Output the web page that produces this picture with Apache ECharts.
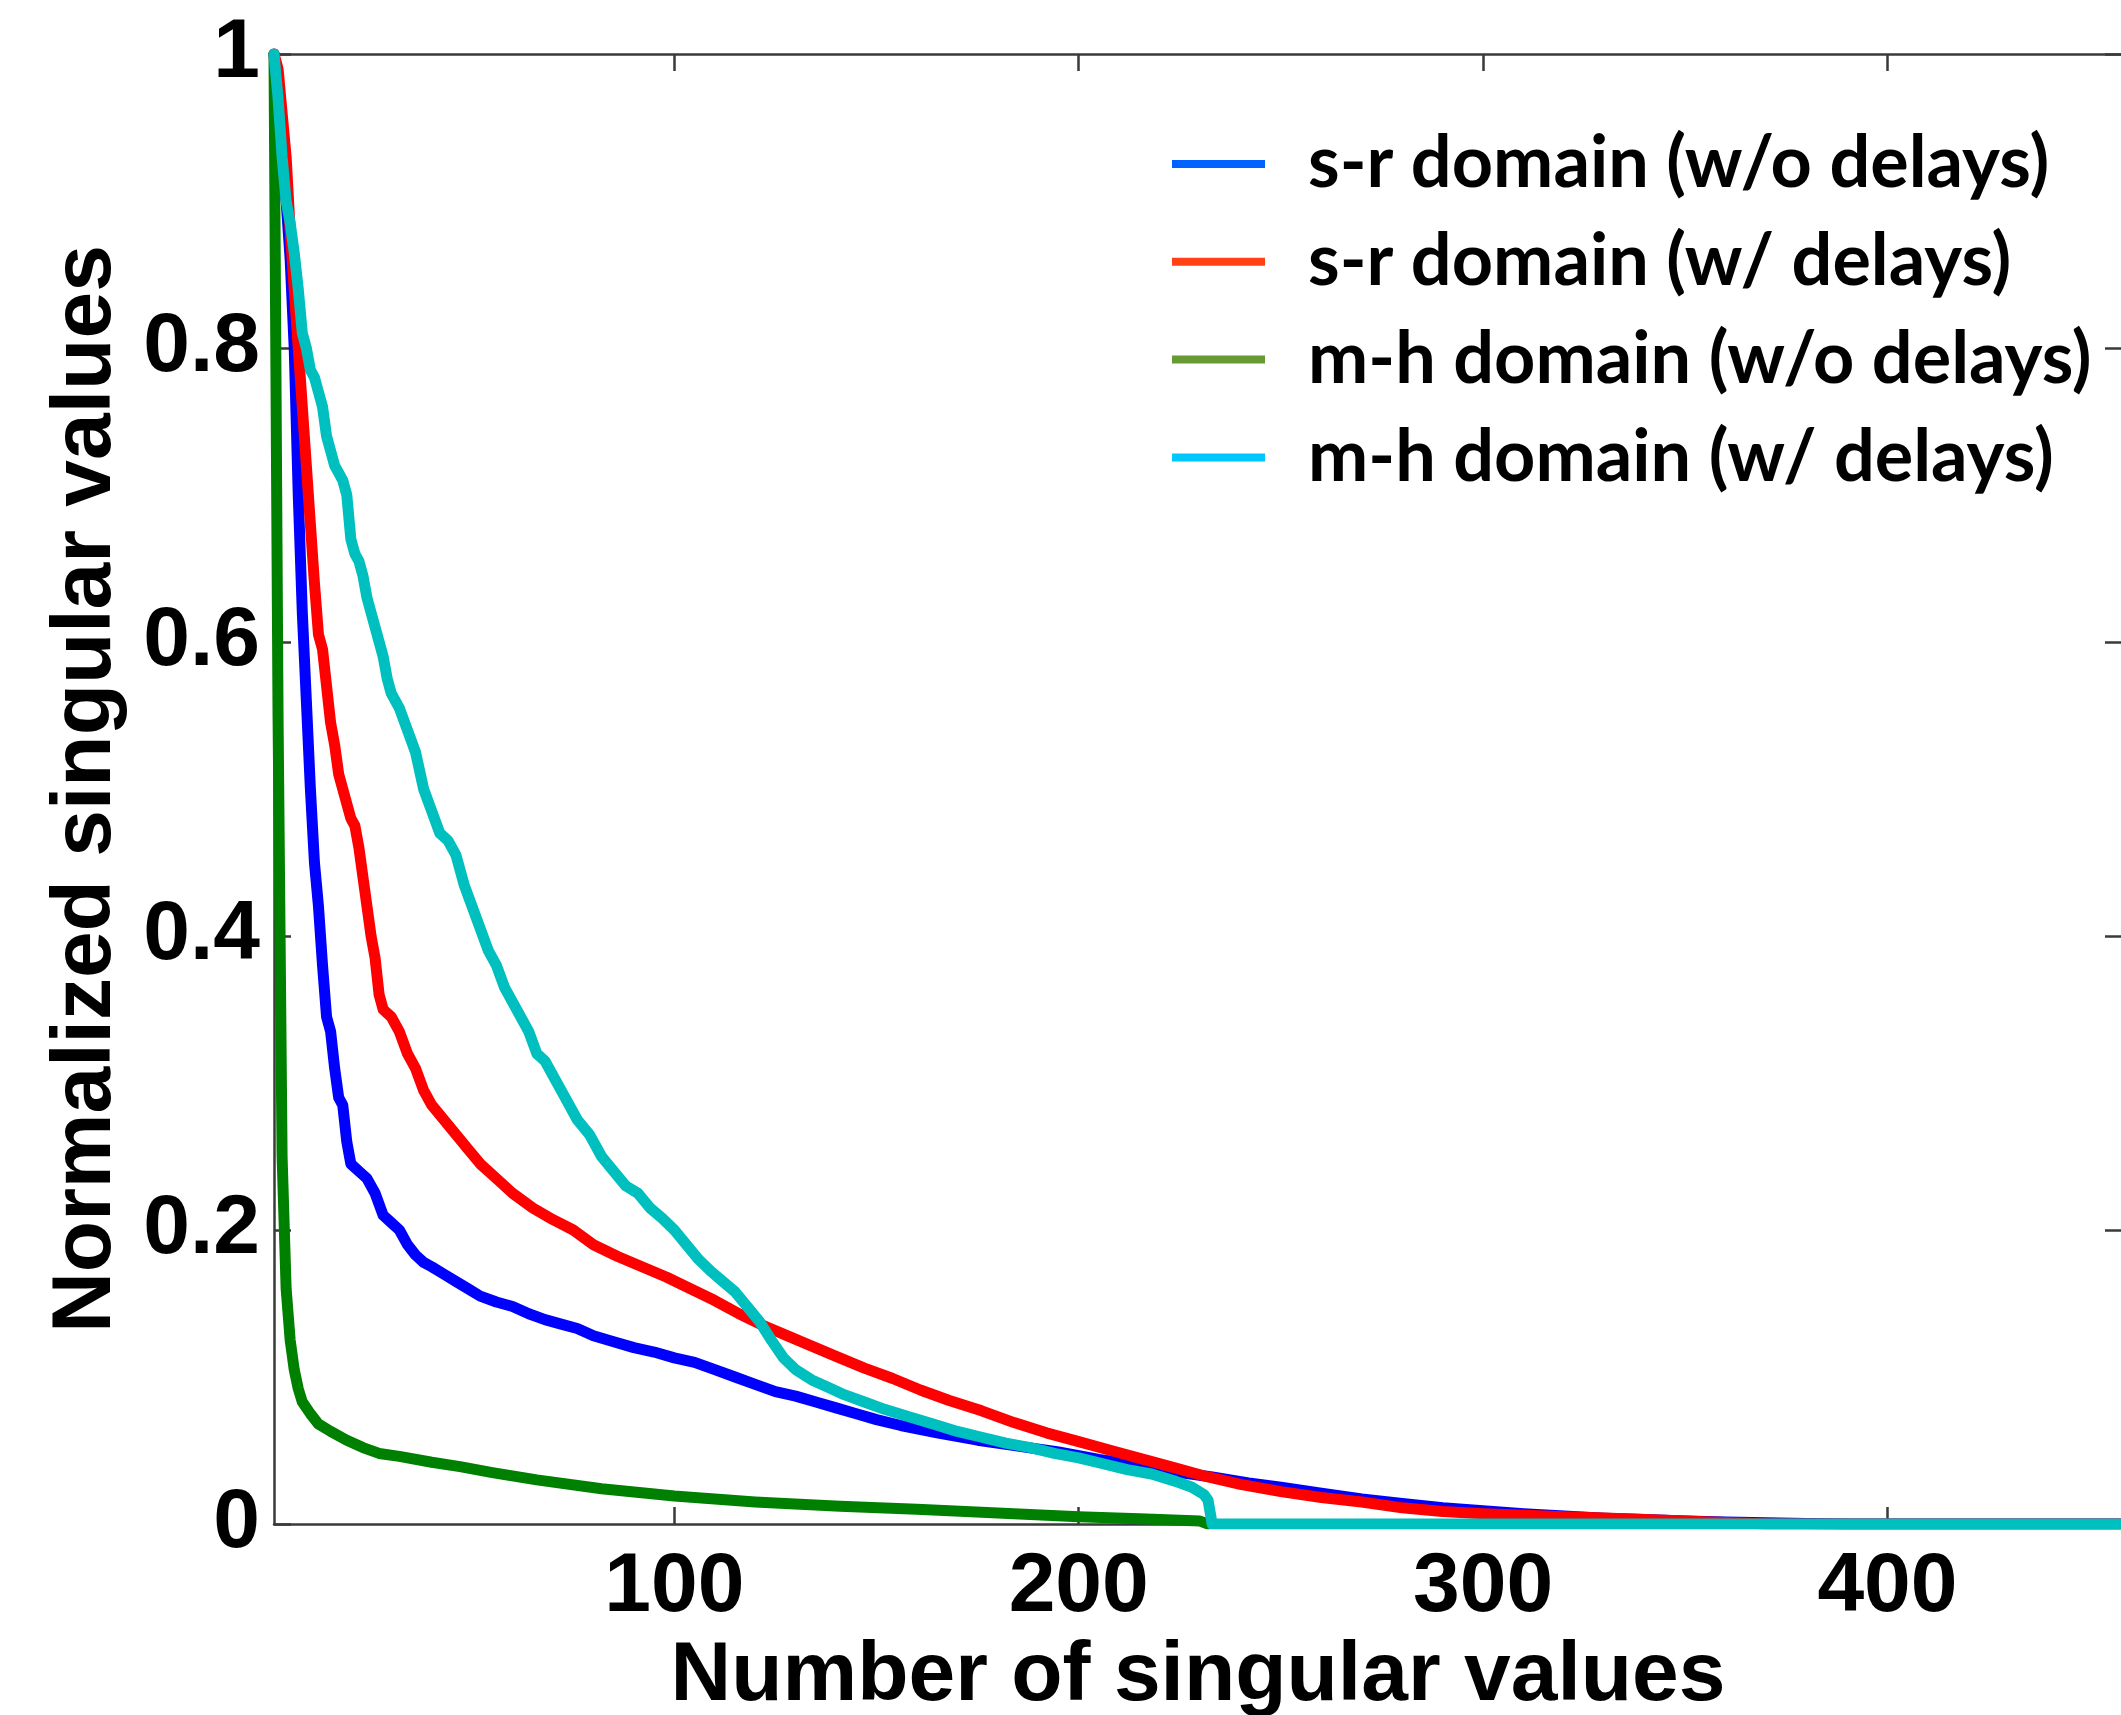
<!DOCTYPE html>
<html>
<head>
<meta charset="utf-8">
<script src="https://cdn.jsdelivr.net/npm/echarts@6/dist/echarts.min.js"></script>
<style>
  html, body { margin: 0; padding: 0; background: #ffffff; }
  #chart { width: 2121px; height: 1715px; }
</style>
</head>
<body>
<div id="chart"></div>
<script>
// Series names, as shown in the legend
const seriesNames = [
  's-r domain (w/o delays)',
  's-r domain (w/ delays)',
  'm-h domain (w/o delays)',
  'm-h domain (w/ delays)'
];

// Tick positions
const xTicks = [100, 200, 300, 400];
const yTicks = [0, 0.2, 0.4, 0.6, 0.8, 1];

// Normalized singular value curves: [index, value]
const srNoDelay = [
  [1, 1], [2, 0.96], [3, 0.93], [4, 0.9], [5, 0.86], [6, 0.8], [7, 0.7], [8, 0.62],
  [9, 0.56], [10, 0.5], [11, 0.45], [12, 0.42], [13, 0.38], [14, 0.345], [15, 0.335],
  [16, 0.31], [17, 0.29], [18, 0.285], [19, 0.26], [20, 0.245], [22, 0.24], [24, 0.235],
  [26, 0.225], [28, 0.21], [30, 0.205], [32, 0.2], [34, 0.19], [36, 0.183], [38, 0.178],
  [40, 0.175], [43, 0.17], [46, 0.165], [49, 0.16], [52, 0.155], [56, 0.151], [60, 0.148],
  [64, 0.143], [68, 0.139], [72, 0.136], [76, 0.133], [80, 0.128], [85, 0.124], [90, 0.12],
  [95, 0.117], [100, 0.113], [105, 0.11], [110, 0.105], [115, 0.1], [120, 0.095],
  [125, 0.09], [130, 0.087], [135, 0.083], [140, 0.079], [145, 0.075], [150, 0.071],
  [156, 0.067], [165, 0.062], [175, 0.057], [185, 0.053], [195, 0.049], [205, 0.044],
  [215, 0.04], [225, 0.035], [233, 0.032], [242, 0.028], [250, 0.025], [260, 0.021],
  [270, 0.017], [280, 0.014], [290, 0.011], [300, 0.009], [310, 0.007], [320, 0.0055],
  [330, 0.004], [340, 0.003], [350, 0.002], [360, 0.0013], [370, 0.0008], [380, 0.0004],
  [390, 0], [458, 0]
];

const srDelay = [
  [1, 1], [2, 0.99], [3, 0.96], [4, 0.93], [5, 0.88], [6, 0.84], [7, 0.8], [8, 0.76],
  [9, 0.72], [10, 0.68], [11, 0.64], [12, 0.605], [13, 0.595], [14, 0.57], [15, 0.545],
  [16, 0.53], [17, 0.51], [18, 0.5], [20, 0.48], [21, 0.475], [22, 0.46], [23, 0.44],
  [24, 0.42], [25, 0.4], [26, 0.385], [27, 0.36], [28, 0.35], [30, 0.345], [32, 0.335],
  [34, 0.32], [36, 0.31], [38, 0.295], [40, 0.285], [43, 0.275], [46, 0.265], [49, 0.255],
  [52, 0.245], [56, 0.235], [60, 0.225], [65, 0.215], [70, 0.207], [75, 0.2], [80, 0.19],
  [86, 0.182], [92, 0.175], [98, 0.168], [104, 0.16], [110, 0.152], [116, 0.143],
  [122, 0.135], [128, 0.128], [134, 0.121], [140, 0.114], [147, 0.106], [154, 0.099],
  [161, 0.091], [168, 0.084], [176, 0.077], [184, 0.069], [192, 0.062], [200, 0.056],
  [208, 0.05], [216, 0.044], [224, 0.038], [232, 0.032], [240, 0.027], [250, 0.022],
  [260, 0.018], [270, 0.015], [280, 0.011], [290, 0.0085], [300, 0.007], [310, 0.006],
  [320, 0.005], [330, 0.004], [340, 0.003], [350, 0.002], [360, 0.001], [370, 0], [458, 0]
];

const mhNoDelay = [
  [1, 1], [2, 0.55], [3, 0.25], [4, 0.16], [5, 0.125], [6, 0.105], [7, 0.092], [8, 0.083],
  [10, 0.075], [12, 0.068], [15, 0.063], [19, 0.057], [23, 0.052], [27, 0.048], [32, 0.046],
  [40, 0.042], [47, 0.039], [55, 0.035], [66, 0.03], [82, 0.024], [100, 0.019],
  [120, 0.015], [141, 0.012], [160, 0.01], [180, 0.0075], [200, 0.005], [215, 0.0035],
  [230, 0.002], [232, 0]
];

const mhDelay = [
  [1, 1], [2, 0.97], [3, 0.93], [4, 0.9], [5, 0.885], [6, 0.865], [7, 0.84], [8, 0.81],
  [9, 0.8], [10, 0.785], [11, 0.78], [12, 0.77], [13, 0.76], [14, 0.74], [15, 0.73],
  [16, 0.72], [17, 0.715], [18, 0.71], [19, 0.7], [20, 0.67], [21, 0.66], [22, 0.655],
  [23, 0.645], [24, 0.63], [25, 0.62], [26, 0.61], [27, 0.6], [28, 0.59], [29, 0.575],
  [30, 0.565], [32, 0.555], [34, 0.54], [36, 0.525], [38, 0.5], [40, 0.485], [42, 0.47],
  [44, 0.465], [46, 0.455], [48, 0.435], [50, 0.42], [52, 0.405], [54, 0.39], [56, 0.38],
  [58, 0.365], [60, 0.355], [62, 0.345], [64, 0.335], [66, 0.32], [68, 0.315], [70, 0.305],
  [73, 0.29], [76, 0.275], [79, 0.265], [82, 0.25], [85, 0.24], [88, 0.23], [91, 0.225],
  [94, 0.215], [97, 0.208], [100, 0.2], [103, 0.19], [106, 0.18], [109, 0.172],
  [112, 0.165], [115, 0.158], [118, 0.148], [121, 0.138], [124, 0.125], [127, 0.113],
  [130, 0.105], [134, 0.098], [138, 0.093], [142, 0.088], [147, 0.083], [152, 0.078],
  [158, 0.073], [164, 0.068], [170, 0.063], [176, 0.059], [182, 0.055], [188, 0.052],
  [194, 0.048], [200, 0.045], [206, 0.041], [212, 0.037], [218, 0.034], [224, 0.029],
  [228, 0.025], [231, 0.02], [232, 0.016], [233, 0], [458, 0]
];

const curves = [srNoDelay, srDelay, mhNoDelay, mhDelay];
const lineColors = ['#0000ff', '#ff0000', '#008000', '#00bfbf'];
const legendColors = ['#0062ff', '#ff4115', '#679a35', '#00c8ff'];

const axisColor = '#3a3a3a';
const tickFont = {
  fontFamily: '"Liberation Sans", Arial, Helvetica, sans-serif',
  fontWeight: 'bold',
  fontSize: 84,
  color: '#000000'
};

const chart = echarts.init(document.getElementById('chart'), null, { renderer: 'canvas' });

// Box-style axis: line plus inward ticks, no grid lines
function frameAxis(extra) {
  return Object.assign({
    type: 'value',
    axisLine: { show: true, onZero: false, lineStyle: { color: axisColor, width: 2.5 } },
    axisTick: { show: true, inside: true, length: 17, lineStyle: { color: axisColor, width: 2.5 } },
    splitLine: { show: false }
  }, extra);
}

chart.setOption({
  animation: false,
  backgroundColor: '#ffffff',
  grid: {
    left: 274,
    top: 54,
    width: 1848,
    height: 1470,
    containLabel: false,
    outerBoundsMode: 'none'
  },
  legend: {
    orient: 'vertical',
    left: 1167,
    top: 122,
    itemWidth: 93,
    itemHeight: 8,
    itemGap: 23.8,
    icon: 'rect',
    selectedMode: false,
    textStyle: {
      fontFamily: 'Lato, "Open Sans", sans-serif',
      fontWeight: 'bold',
      fontSize: 72,
      lineHeight: 74,
      color: '#000000',
      padding: [0, 0, 0, 38]
    },
    data: seriesNames.map((name, i) => ({
      name: name,
      itemStyle: { color: legendColors[i] },
      lineStyle: { color: legendColors[i] }
    }))
  },
  xAxis: [
    frameAxis({
      position: 'bottom',
      min: 1,
      max: 458,
      axisTick: { show: true, inside: true, length: 17, customValues: xTicks,
                  lineStyle: { color: axisColor, width: 2.5 } },
      axisLabel: Object.assign({ customValues: xTicks, margin: 22 }, tickFont),
      name: 'Number of singular values',
      nameLocation: 'middle',
      nameGap: 108,
      nameTextStyle: tickFont
    }),
    frameAxis({
      position: 'top',
      min: 1,
      max: 458,
      axisTick: { show: true, inside: true, length: 17, customValues: xTicks,
                  lineStyle: { color: axisColor, width: 2.5 } },
      axisLabel: { show: false }
    })
  ],
  yAxis: [
    frameAxis({
      position: 'left',
      min: yTicks[0],
      max: yTicks[yTicks.length - 1],
      interval: 0.2,
      axisLabel: Object.assign({
        margin: 14,
        formatter: v => String(Math.round(v * 10) / 10)
      }, tickFont),
      name: 'Normalized singular values',
      nameLocation: 'middle',
      nameRotate: 90,
      nameGap: 145,
      nameTextStyle: tickFont
    }),
    frameAxis({
      position: 'right',
      min: yTicks[0],
      max: yTicks[yTicks.length - 1],
      interval: 0.2,
      axisLabel: { show: false }
    })
  ],
  series: curves.map((data, i) => ({
    name: seriesNames[i],
    type: 'line',
    xAxisIndex: 0,
    yAxisIndex: 0,
    data: data,
    showSymbol: false,
    symbol: 'none',
    smooth: false,
    color: lineColors[i],
    itemStyle: { color: lineColors[i] },
    lineStyle: { color: lineColors[i], width: 11, cap: 'round', join: 'round' },
    emphasis: { disabled: true }
  }))
});
</script>
</body>
</html>
